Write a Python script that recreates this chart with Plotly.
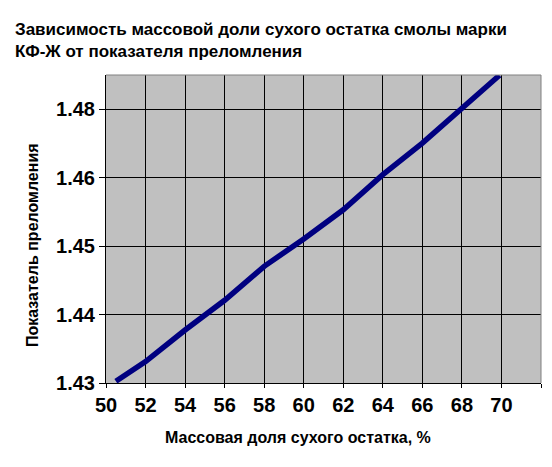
import plotly.graph_objects as go

# massovaya dolya, % and pokazatel prelomleniya
mass_fraction = [50.5, 52, 54, 56, 58, 60, 62, 64, 66, 68, 69.9]
refr_index = [1.4303, 1.4336, 1.4389, 1.4439, 1.4496, 1.4542, 1.4591, 1.4650, 1.4703, 1.4761, 1.4817]

x_ticks = [50, 52, 54, 56, 58, 60, 62, 64, 66, 68, 70, 72]
x_labels = ["50", "52", "54", "56", "58", "60", "62", "64", "66", "68", "70", ""]
y_ticks = [1.43, 1.4415, 1.453, 1.4645, 1.476]
y_labels = ["1.43", "1.44", "1.45", "1.46", "1.48"]

font = "Liberation Sans, Arial, sans-serif"

fig = go.Figure(go.Scatter(
    x=mass_fraction, y=refr_index, mode="lines",
    line=dict(color="#000080", width=5.5),
))

# page body has an 8px margin, so the figure is 8px smaller
fig.update_layout(
    width=544, height=459,
    margin=dict(l=98, r=11, t=67, b=84),
    paper_bgcolor="white", plot_bgcolor="#C0C0C0",
    showlegend=False,
    font=dict(family=font, color="black"),
    title=dict(
        text="<b>Зависимость массовой доли сухого остатка смолы марки<br>КФ-Ж от показателя преломления</b>",
        x=7 / 544, xref="container", xanchor="left",
        y=1 - 27 / 459, yref="container", yanchor="top",
        font=dict(size=17, family=font),
    ),
)

fig.update_xaxes(
    range=[50, 72], tickvals=x_ticks, ticktext=["<b>%s</b>" % t for t in x_labels],
    showgrid=True, gridcolor="black", gridwidth=1,
    showline=True, linecolor="black", linewidth=1,
    ticks="outside", ticklen=4, tickcolor="black",
    tickfont=dict(size=20, family=font),
    zeroline=False,
)
fig.update_yaxes(
    range=[1.43, 1.43 + 4.5 * 0.0115], tickvals=y_ticks, ticktext=["<b>%s</b>" % t for t in y_labels],
    showgrid=True, gridcolor="black", gridwidth=1,
    showline=True, linecolor="black", linewidth=1,
    ticks="outside", ticklen=6, tickcolor="black",
    tickfont=dict(size=20, family=font),
    zeroline=False,
)

# gray frame on top and right
fig.add_shape(type="line", xref="paper", yref="paper", x0=0, x1=1, y0=1, y1=1,
              line=dict(color="#808080", width=1))
fig.add_shape(type="line", xref="paper", yref="paper", x0=1, x1=1, y0=0, y1=1,
              line=dict(color="#808080", width=1))

fig.add_annotation(
    text="<b>Массовая доля сухого остатка, %</b>",
    xref="paper", yref="paper", x=(290 - 98) / 435, y=-(429 - 375) / 308,
    showarrow=False, font=dict(size=16, family=font),
    xanchor="center", yanchor="middle",
)
fig.add_annotation(
    text="<b>Показатель преломления</b>",
    xref="paper", yref="paper", x=-(98 - 24) / 435, y=(375 - 237) / 308,
    showarrow=False, font=dict(size=16, family=font), textangle=-90,
    xanchor="center", yanchor="middle",
)

fig.write_html("out.html")
